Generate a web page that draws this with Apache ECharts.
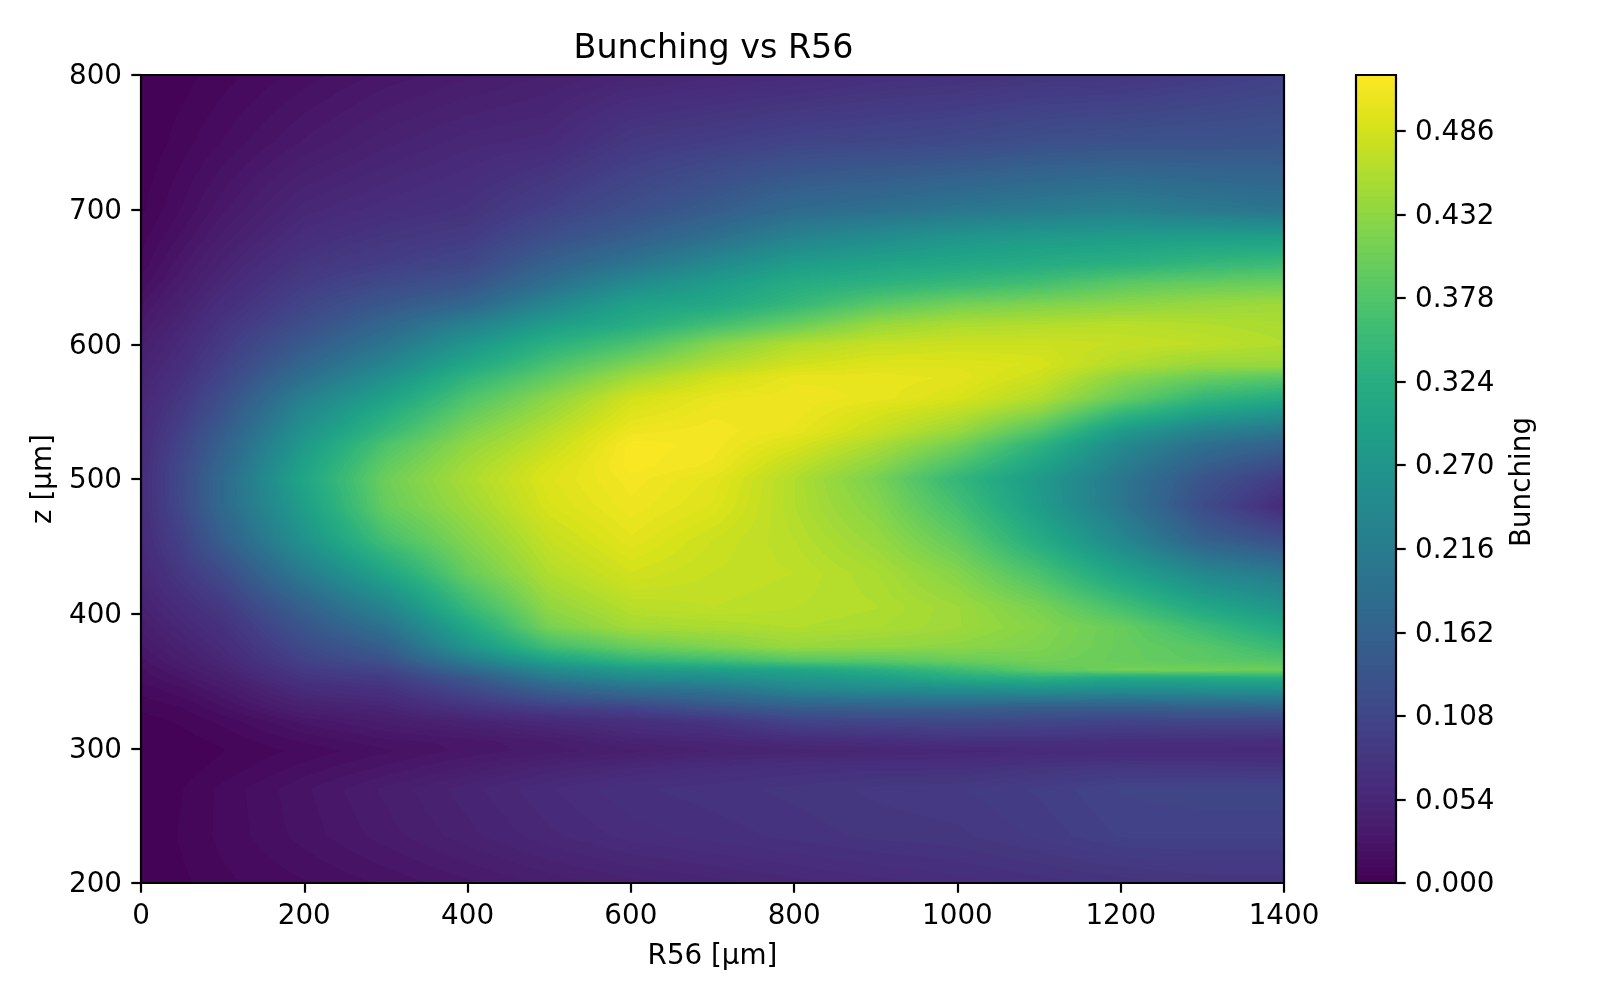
<!DOCTYPE html>
<html>
<head>
<meta charset="utf-8">
<style>html,body{margin:0;padding:0;background:#fff}#main{width:1600px;height:1000px}</style>
<script src="https://cdn.jsdelivr.net/npm/echarts@6/dist/echarts.min.js"></script>
</head>
<body>
<div id="main"></div>
<script>
const chartTitle = 'Bunching vs R56';
const xName = 'R56 [μm]';
const yName = 'z [μm]';
const cbName = 'Bunching';
const cbTicks = [0, 0.054, 0.108, 0.162, 0.216, 0.27, 0.324, 0.378, 0.432, 0.486];
const vMax = 0.5222;
const levelCount = 100;
const viridis = ['#440154','#481a6c','#472d7b','#424086','#3b528b','#33638d','#2c728e','#26828e','#21918c','#1fa088','#28ae80','#3fbc73','#5ec962','#84d44b','#addc30','#d8e219','#fde725'];

const zRows = [800,750,700,680,660,645,630,615,600,585,575,560,550,535,525,510,500,480,455,430,405,390,375,365,358,352,345,330,320,305,298,285,270,235,200];
const r56Cols = [0,50,100,200,300,400,500,600,700,800,900,1000,1100,1200,1300,1400];
const c0 = [.000,.000,.004,.008,.012,.018,.025,.032,.040,.046,.050,.054,.057,.060,.062,.064,.065,.065,.062,.055,.045,.038,.030,.024,.020,.017,.013,.006,.003,.000,.000,.000,.000,.000,.000];
const c50 = [.003,.008,.016,.022,.030,.036,.044,.052,.060,.068,.074,.084,.090,.100,.106,.113,.115,.113,.100,.085,.065,.055,.045,.038,.032,.027,.020,.010,.006,.003,.002,.003,.005,.006,.004];
const c100 = [.008,.016,.030,.038,.048,.056,.066,.078,.088,.100,.108,.124,.134,.150,.160,.172,.178,.178,.155,.118,.086,.072,.062,.054,.046,.040,.032,.020,.012,.006,.005,.007,.012,.012,.009];
const c200 = [.018,.032,.055,.066,.080,.092,.106,.122,.145,.170,.190,.225,.242,.265,.280,.298,.305,.290,.265,.215,.160,.135,.115,.100,.088,.078,.064,.042,.028,.016,.012,.018,.025,.023,.015];
const c300 = [.028,.045,.066,.080,.095,.115,.140,.170,.200,.235,.260,.295,.320,.350,.375,.395,.405,.400,.365,.305,.235,.195,.155,.130,.105,.090,.075,.050,.038,.024,.020,.028,.038,.034,.022];
const c400 = [.035,.055,.075,.090,.110,.135,.170,.225,.270,.310,.340,.375,.395,.420,.435,.450,.455,.445,.425,.400,.350,.310,.270,.215,.175,.140,.115,.075,.048,.028,.028,.038,.050,.045,.030];
const c500 = [.042,.060,.100,.125,.160,.190,.235,.285,.330,.370,.395,.430,.445,.465,.475,.490,.495,.490,.475,.460,.435,.415,.360,.295,.245,.210,.165,.095,.060,.036,.034,.050,.062,.056,.038];
const c600 = [.050,.085,.125,.155,.200,.250,.295,.320,.370,.420,.450,.485,.495,.510,.520,.520,.515,.510,.500,.485,.465,.450,.400,.340,.280,.245,.195,.105,.070,.048,.040,.058,.072,.065,.045];
const c700 = [.055,.095,.150,.190,.245,.285,.310,.360,.425,.460,.485,.505,.510,.515,.515,.510,.500,.495,.480,.475,.470,.455,.420,.355,.290,.255,.205,.130,.080,.052,.047,.065,.076,.070,.050];
const c800 = [.060,.105,.180,.230,.285,.320,.345,.400,.460,.485,.505,.510,.510,.505,.490,.470,.460,.460,.465,.470,.465,.460,.440,.380,.300,.275,.240,.150,.105,.060,.050,.070,.080,.075,.055];
const c900 = [.068,.110,.190,.250,.300,.335,.385,.440,.475,.495,.505,.505,.490,.475,.455,.430,.415,.425,.440,.455,.460,.455,.435,.385,.325,.290,.255,.155,.110,.065,.052,.072,.085,.080,.060];
const c1000 = [.072,.115,.205,.270,.310,.350,.410,.455,.480,.495,.500,.490,.470,.440,.410,.370,.345,.365,.395,.425,.445,.445,.430,.400,.355,.320,.260,.155,.115,.070,.055,.072,.088,.082,.065];
const c1100 = [.078,.125,.215,.280,.320,.365,.420,.460,.480,.490,.480,.460,.430,.375,.335,.300,.280,.285,.320,.370,.415,.425,.420,.410,.390,.330,.270,.150,.110,.072,.058,.080,.095,.090,.070];
const c1200 = [.080,.130,.225,.285,.330,.390,.430,.465,.475,.460,.430,.400,.350,.280,.245,.220,.205,.205,.240,.300,.365,.400,.400,.400,.410,.310,.260,.150,.105,.068,.060,.085,.105,.100,.075];
const c1300 = [.090,.132,.210,.290,.345,.400,.440,.460,.470,.440,.400,.345,.300,.225,.190,.155,.135,.120,.160,.240,.310,.355,.385,.390,.410,.315,.265,.155,.110,.068,.060,.083,.108,.100,.080];
const c1400 = [.100,.135,.200,.290,.355,.405,.445,.455,.460,.440,.385,.320,.270,.200,.160,.115,.090,.060,.125,.210,.270,.310,.350,.380,.405,.320,.270,.160,.110,.065,.060,.080,.108,.100,.080];
const columns = [c0,c50,c100,c200,c300,c400,c500,c600,c700,c800,c900,c1000,c1100,c1200,c1300,c1400];

const stopRGB = viridis.map(h => [1,3,5].map(i => parseInt(h.substr(i,2),16)));
function cmap(t){
  t = Math.max(0, Math.min(1, t)) * (stopRGB.length - 1);
  const i = Math.min(Math.floor(t), stopRGB.length - 2), f = t - i;
  return [0,1,2].map(k => stopRGB[i][k] + (stopRGB[i+1][k] - stopRGB[i][k]) * f);
}
function levelColor(v){
  const step = vMax / levelCount;
  const l = Math.min(levelCount - 1, Math.max(0, Math.floor(v / step)));
  return cmap((l + 0.5) / levelCount);
}

const nodes = [];
r56Cols.forEach((x, i) => zRows.forEach((z, j) => nodes.push([x, z, columns[i][j], i, j])));

function renderCell(params, api){
  const i = api.value(3), j = api.value(4);
  if (i >= r56Cols.length - 1 || j >= zRows.length - 1) return null;
  const p0 = api.coord([r56Cols[i], zRows[j]]);
  const p1 = api.coord([r56Cols[i+1], zRows[j+1]]);
  const x0 = Math.round(p0[0]), y0 = Math.round(p0[1]), x1 = Math.round(p1[0]), y1 = Math.round(p1[1]);
  const w = x1 - x0, h = y1 - y0;
  if (w <= 0 || h <= 0) return null;
  const cv = document.createElement('canvas');
  cv.width = w; cv.height = h;
  const ctx = cv.getContext('2d');
  const img = ctx.createImageData(w, h);
  const a = columns[i][j], b = columns[i+1][j], c = columns[i][j+1], d = columns[i+1][j+1];
  for (let py = 0; py < h; py++) {
    const ty = (py + 0.5) / h;
    for (let px = 0; px < w; px++) {
      const tx = (px + 0.5) / w;
      const v = (a*(1-tx) + b*tx)*(1-ty) + (c*(1-tx) + d*tx)*ty;
      const col = levelColor(v);
      const o = (py*w + px)*4;
      img.data[o] = col[0]; img.data[o+1] = col[1]; img.data[o+2] = col[2]; img.data[o+3] = 255;
    }
  }
  ctx.putImageData(img, 0, 0);
  return {type:'image', style:{image:cv, x:x0, y:y0, width:w, height:h}, silent:true};
}

const cbLevels = [];
for (let l = 0; l < levelCount; l++) cbLevels.push([0, l * vMax / levelCount, (l + 1) * vMax / levelCount]);
function renderBand(params, api){
  const lo = api.value(1), hi = api.value(2);
  const a = api.coord([0, lo]), b = api.coord([1, hi]);
  const c = cmap((lo + hi) / 2 / vMax);
  const top = Math.floor(b[1]), bottom = Math.ceil(a[1]);
  return {type:'rect', shape:{x:a[0], y:top, width:b[0]-a[0], height:bottom-top},
    style:{fill:'rgb('+c.map(Math.round).join(',')+')', stroke:null}, silent:true};
}

const font = 'DejaVu Sans';
const FS = 27.78, LW = 2.2, TL = 9.7;
const lineStyle = {color:'#000', width:LW};
const labelBase = {color:'#000', fontFamily:font, fontSize:FS, margin:19, formatter:v => String(v)};
const labelY = Object.assign({}, labelBase, {verticalAlign:'top', lineHeight:4});
const nameStyle = {color:'#000', fontFamily:font, fontSize:FS};
const frameAxis = (extra) => Object.assign({type:'value', z:10, axisLine:{show:true,onZero:false,lineStyle},
  axisTick:{show:false}, axisLabel:{show:false}, splitLine:{show:false}}, extra);

const option = {
  animation:false,
  backgroundColor:'#fff',
  title:{text:chartTitle, left:708.5, top:28, textAlign:'center', textStyle:{color:'#000',fontFamily:font,fontSize:33.33,fontWeight:'normal'}},
  grid:[
    {left:141, top:75, width:1143, height:808},
    {left:1356, top:75, width:40, height:808}
  ],
  xAxis:[
    {type:'value', gridIndex:0, min:0, max:1400, interval:200, position:'bottom', z:10, name:xName, nameLocation:'middle', nameGap:60, nameTextStyle:nameStyle,
      axisLine:{show:true,onZero:false,lineStyle}, axisTick:{show:true,length:TL,lineStyle}, axisLabel:Object.assign({}, labelBase, {margin:20}), splitLine:{show:false}},
    frameAxis({gridIndex:0, min:0, max:1400, position:'top'}),
    frameAxis({gridIndex:1, min:0, max:1, position:'bottom'}),
    frameAxis({gridIndex:1, min:0, max:1, position:'top'})
  ],
  yAxis:[
    {type:'value', gridIndex:0, min:200, max:800, interval:100, position:'left', z:10, name:yName, nameLocation:'middle', nameGap:83, nameRotate:90, nameTextStyle:nameStyle,
      axisLine:{show:true,onZero:false,lineStyle}, axisTick:{show:true,length:TL,lineStyle}, axisLabel:labelY, splitLine:{show:false}},
    frameAxis({gridIndex:0, min:200, max:800, position:'right'}),
    {type:'value', gridIndex:1, min:0, max:vMax, position:'right', z:10, name:cbName, nameLocation:'middle', nameGap:113, nameRotate:90,
      nameTextStyle:Object.assign({}, nameStyle, {padding:[0,6,0,0]}),
      axisLine:{show:true,onZero:false,lineStyle},
      axisTick:{show:true,length:TL,lineStyle,customValues:cbTicks},
      axisLabel:Object.assign({}, labelY, {customValues:cbTicks, formatter:v => v.toFixed(3)}), splitLine:{show:false}},
    frameAxis({gridIndex:1, min:0, max:vMax, position:'left'})
  ],
  series:[
    {type:'custom', name:cbName, coordinateSystem:'cartesian2d', xAxisIndex:0, yAxisIndex:0, data:nodes, renderItem:renderCell, clip:true, silent:true, z:2, progressive:0},
    {type:'custom', name:'colorbar', coordinateSystem:'cartesian2d', xAxisIndex:2, yAxisIndex:2, data:cbLevels, renderItem:renderBand, clip:true, silent:true, z:2, progressive:0}
  ]
};
const chart = echarts.init(document.getElementById('main'), null, {renderer:'canvas'});
chart.setOption(option);
</script>
</body>
</html>
